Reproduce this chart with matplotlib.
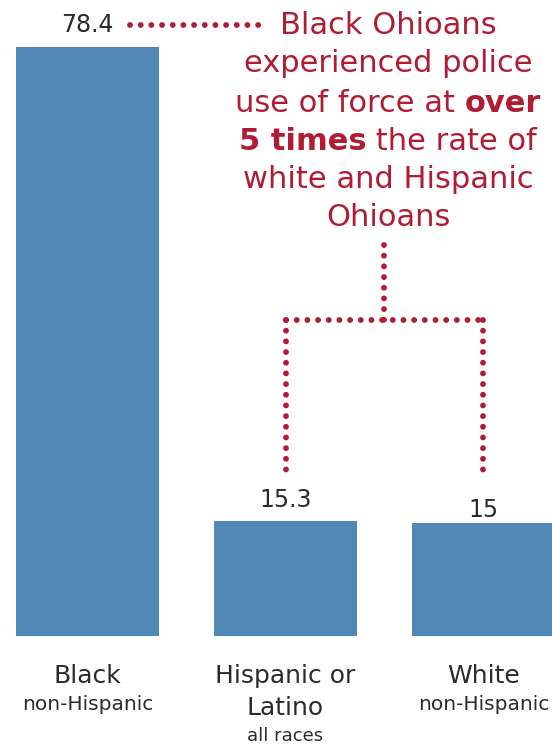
import matplotlib
matplotlib.use('Agg')
import matplotlib.pyplot as plt

# ---- data ----
categories = ["Black", "Hispanic or\nLatino", "White"]
subtitles = ["non-Hispanic", "all races", "non-Hispanic"]
values = [78.4, 15.3, 15.0]
value_labels = ["78.4", "15.3", "15"]
label_offsets = [2.9, 2.8, 1.8]

annotation_lines = [
    [("Black Ohioans", "normal")],
    [("experienced police", "normal")],
    [("use of force at ", "normal"), ("over", "bold")],
    [("5 times", "bold"), (" the rate of", "normal")],
    [("white and Hispanic", "normal")],
    [("Ohioans", "normal")],
]

BAR = '#4F88B5'
RED = '#B01C33'
TXT = '#2b2b2b'
FONT = 'DejaVu Sans'

W, H = 552, 744
fig = plt.figure(figsize=(W / 100, H / 100), dpi=100)
ax = fig.add_axes([0, 0, 1, 1])
ax.set_xlim(-0.442, 2.346)
ax.set_ylim(-14.37, 84.65)
ax.axis('off')

xs = list(range(len(values)))
ax.bar(xs, values, width=0.722, color=BAR)

for xi, v, lab, off in zip(xs, values, value_labels, label_offsets):
    ax.text(xi, v + off, lab, ha='center', va='center', fontsize=17,
            color=TXT, family=FONT)

for xi, cat, sub in zip(xs, categories, subtitles):
    lines = cat.split('\n')
    for k, ln in enumerate(lines):
        ax.text(xi, -5.3 - 4.3 * k, ln, ha='center', va='center', fontsize=18,
                color=TXT, family=FONT)
    if len(lines) == 1:
        ax.text(xi, -9.05, sub, ha='center', va='center', fontsize=14.5,
                color=TXT, family=FONT)
    else:
        ax.text(xi, -13.35, sub, ha='center', va='center', fontsize=13,
                color=TXT, family=FONT)

# ---- dotted connectors ----
dot = dict(color=RED, linewidth=4.2, linestyle=(0, (0.01, 1.82)),
           dash_capstyle='round', solid_capstyle='round')
ax.plot([0.215, 0.885], [81.3, 81.3], **dot)
ax.plot([1.5, 1.5], [52.0, 42.1], **dot)
ax.plot([1.0, 2.0], [42.1, 42.1], **dot)
ax.plot([1.0, 1.0], [42.1, 21.0], **dot)
ax.plot([2.0, 2.0], [42.1, 21.0], **dot)

# ---- annotation text with mixed weights ----
fig.canvas.draw()
renderer = fig.canvas.get_renderer()
cx = 388
line_y = [25, 64, 103, 142, 180, 218]
fs = 22
for parts, yp in zip(annotation_lines, line_y):
    widths = []
    for txt, wt in parts:
        t = fig.text(0, 0, txt, fontsize=fs, family=FONT, fontweight=wt)
        widths.append(t.get_window_extent(renderer).width)
        t.remove()
    total = sum(widths)
    xstart = cx - total / 2
    for (txt, wt), w in zip(parts, widths):
        fig.text(xstart / W, 1 - yp / H, txt, fontsize=fs, family=FONT,
                 fontweight=wt, color=RED, ha='left', va='center')
        xstart += w

fig.savefig('out.png', dpi=100)
